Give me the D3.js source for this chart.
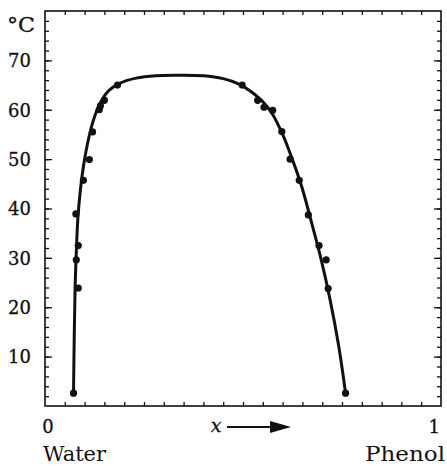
<!DOCTYPE html>
<html><head><meta charset="utf-8">
<script src="https://cdn.jsdelivr.net/npm/d3@7"></script>
<style>
body{margin:0;background:#fff;}
svg text{font-family:"DejaVu Serif",serif;fill:#111;stroke:#111;stroke-width:0.3px;}
svg text.word{stroke-width:0;}
</style></head>
<body><svg id="c" width="447" height="466"></svg>
<script>
// measured data points (mole fraction of phenol, temperature °C)
const pointX = [0.072,0.084,0.079,0.084,0.078,0.097,0.112,0.120,0.137,0.140,0.150,0.183,
                0.498,0.537,0.553,0.575,0.598,0.619,0.642,0.665,0.692,0.710,0.715,0.759];
const pointT = [2.6,23.9,29.6,32.5,38.9,45.7,49.9,55.5,60.0,60.8,61.9,65.0,
                65.0,61.9,60.5,59.9,55.6,50.0,45.7,38.7,32.5,29.6,23.8,2.6];
// smooth coexistence curve
const curveX = [0.072,0.074,0.076,0.079,0.083,0.089,0.097,0.107,0.120,0.137,0.160,0.190,0.230,0.280,0.330,0.400,0.450,0.490,0.520,0.548,0.573,0.599,0.623,0.648,0.672,0.697,0.720,0.742,0.759];
const curveT = [2.6,15,24,31,38,43.5,48.5,53,57.3,61.0,63.8,65.4,66.4,66.9,67.0,66.9,66.3,65.2,63.7,61.8,59.3,55.2,50.3,44.5,37.5,29.8,21.5,12.0,2.6];
const yTicks = [10,20,30,40,50,60,70];
const xTickLabels = [[0,"0"],[1,"1"]];
const endLabels = [[0,"Water",63],[1,"Phenol",80]];

const svg = d3.select("#c");
const L=45,R=441,T=11,B=406;
const x = d3.scaleLinear().domain([0,1]).range([L,R]);
const y = d3.scaleLinear().domain([0,80]).range([B,T]);

// frame
svg.append("rect").attr("x",L).attr("y",T).attr("width",R-L).attr("height",B-T)
  .attr("fill","none").attr("stroke","#111").attr("stroke-width",1.6);

function axisStyle(g){g.select(".domain").remove();g.selectAll("line").attr("stroke","#111").attr("stroke-width",1.3);}
// left minor + major
svg.append("g").attr("transform",`translate(${L},0)`)
  .call(d3.axisLeft(y).tickValues(d3.range(2,80,2)).tickSize(-4).tickFormat("")).call(axisStyle);
svg.append("g").attr("transform",`translate(${L},0)`)
  .call(d3.axisLeft(y).tickValues(yTicks).tickSize(-7).tickPadding(14).tickFormat(d3.format("d")))
  .call(axisStyle)
  .call(g=>g.selectAll("text").attr("font-size",18).attr("font-family","DejaVu Serif").attr("fill","#111").attr("dy","0.35em"));
// right
svg.append("g").attr("transform",`translate(${R},0)`)
  .call(d3.axisRight(y).tickValues(d3.range(2,80,2)).tickSize(-4).tickFormat("")).call(axisStyle);
svg.append("g").attr("transform",`translate(${R},0)`)
  .call(d3.axisRight(y).tickValues(yTicks).tickSize(-7).tickFormat("")).call(axisStyle);
// top / bottom
svg.append("g").attr("transform",`translate(0,${T})`)
  .call(d3.axisTop(x).tickValues(d3.range(0.05,1,0.05)).tickSize(-4).tickFormat("")).call(axisStyle);
svg.append("g").attr("transform",`translate(0,${B})`)
  .call(d3.axisBottom(x).tickValues(d3.range(0.05,1,0.05)).tickSize(-4).tickFormat("")).call(axisStyle);

// x labels
svg.selectAll(".xl").data(xTickLabels).join("text")
  .attr("x",d=>x(d[0])+(d[0]===0?3:-1)).attr("y",433).attr("text-anchor",d=>d[0]===0?"middle":"end")
  .attr("font-size",18).text(d=>d[1]);
svg.selectAll(".el").data(endLabels).join("text").attr("class","word")
  .attr("x",d=>d[0]===0?x(d[0])-2:x(d[0])+4-d[2]).attr("y",461)
  .attr("textLength",d=>d[2]).attr("lengthAdjust","spacingAndGlyphs")
  .attr("font-size",20).text(d=>d[1]);
// °C
svg.append("text").attr("x",7).attr("y",32).attr("font-size",20)
  .attr("textLength",28).attr("lengthAdjust","spacingAndGlyphs").text("°C");
// x arrow label
svg.append("text").attr("x",216).attr("y",432).attr("text-anchor","middle")
  .attr("font-size",19).attr("font-style","italic").text("x");
svg.append("line").attr("x1",227).attr("x2",272).attr("y1",427).attr("y2",427)
  .attr("stroke","#111").attr("stroke-width",1.8);
svg.append("path").attr("d","M270,421 L291,427 L270,433 Z").attr("fill","#111");

// curve
const line = d3.line().x((d,i)=>x(curveX[i])).y((d,i)=>y(curveT[i])).curve(d3.curveCatmullRom.alpha(0.5));
svg.append("path").attr("d",line(curveX)).attr("fill","none").attr("stroke","#111")
  .attr("stroke-width",3).attr("stroke-linejoin","round").attr("stroke-linecap","round");
// points
svg.selectAll(".pt").data(pointX).join("circle")
  .attr("cx",d=>x(d)).attr("cy",(d,i)=>y(pointT[i])).attr("r",3.6).attr("fill","#111");
</script></body></html>
